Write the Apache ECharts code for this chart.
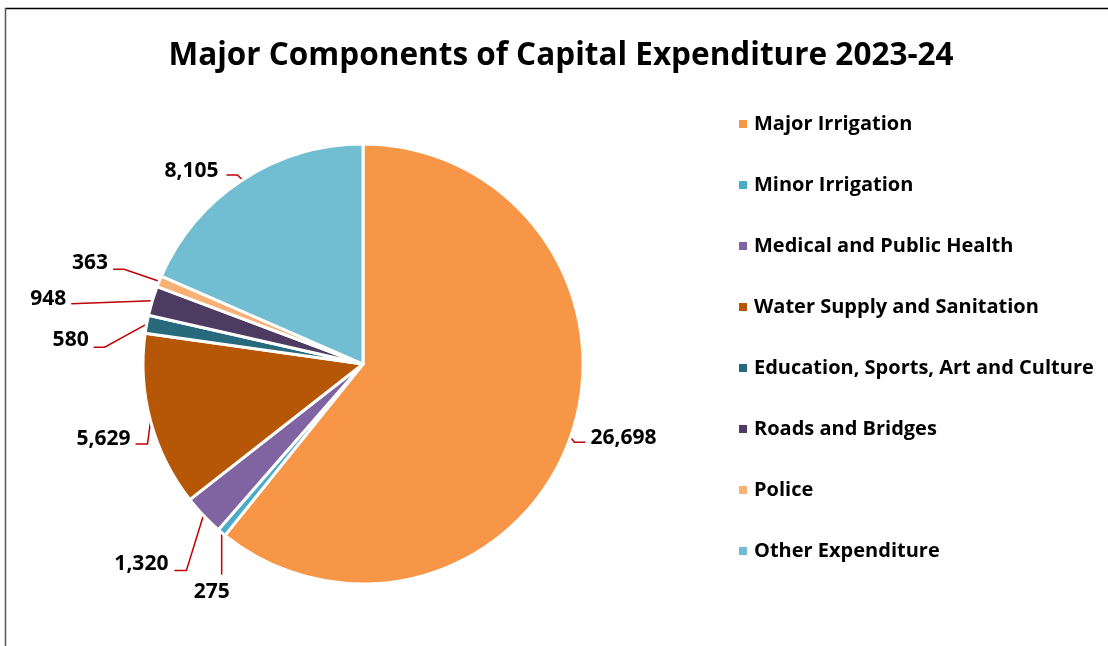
<!DOCTYPE html>
<html>
<head>
<meta charset="utf-8">
<script src="https://cdn.jsdelivr.net/npm/echarts@6/dist/echarts.min.js"></script>
<style>
html,body{margin:0;padding:0;background:#fff;}
#chart{width:1108px;height:646px;}
</style>
</head>
<body>
<div id="chart"></div>
<script>
// Capital expenditure components, 2023-24 (₹ crore)
const categories = [
  'Major Irrigation',
  'Minor Irrigation',
  'Medical and Public Health',
  'Water Supply and Sanitation',
  'Education, Sports, Art and Culture',
  'Roads and Bridges',
  'Police',
  'Other Expenditure'
];
const values = [26698, 275, 1320, 5629, 580, 948, 363, 8105];
const sliceColors = ['#F79646', '#4BACC6', '#8064A2', '#B65708', '#276A7C', '#4E3B62', '#F9B074', '#71BDD1'];

// Leader-line shape for each slice label, relative to the slice's outer edge:
// bend = first segment, run = horizontal segment, text = label offset from the line end.
const leaderStyle = [
  { bend: [4, 5],    run: 11,  text: [5, -4],   align: 'left' },
  { bend: [0, 42],   run: 0,   text: [-10, 17], align: 'center' },
  { bend: [-17, 55], run: -12, text: [-6, -6],  align: 'right' },
  { bend: [-3, 23],  run: -12, text: [-5, -5],  align: 'right' },
  { bend: [-42, 23], run: -11, text: [-5, -7],  align: 'right' },
  { bend: [-81, 3],  run: 0,   text: [-5, -5],  align: 'right' },
  { bend: [-35, -12], run: -11, text: [-5, -6], align: 'right' },
  { bend: [-5, -5],  run: -11, text: [-8, -4],  align: 'right' }
];

const font = '"Open Sans", sans-serif';
const chart = echarts.init(document.getElementById('chart'));

chart.setOption({
  backgroundColor: '#fff',
  animation: false,
  title: {
    text: 'Major Components of Capital Expenditure 2023-24',
    left: 556,
    textAlign: 'center',
    top: 35,
    textStyle: { fontFamily: font, fontWeight: 'bold', fontSize: 31.5, color: '#000' }
  },
  legend: {
    orient: 'vertical',
    left: 732,
    top: 108,
    itemGap: 39,
    itemWidth: 10,
    itemHeight: 10,
    icon: 'rect',
    textStyle: { fontFamily: font, fontWeight: 'bold', fontSize: 20, lineHeight: 22, color: '#000', padding: [0, 0, 0, 1] },
    data: categories
  },
  graphic: [
    { type: 'line', shape: { x1: 5, y1: 8.5, x2: 1108, y2: 8.5 }, style: { stroke: '#000', lineWidth: 1.5 } },
    { type: 'line', shape: { x1: 5.5, y1: 8, x2: 5.5, y2: 646 }, style: { stroke: '#555', lineWidth: 1.5 } }
  ],
  series: [{
    type: 'pie',
    center: [363, 364],
    radius: [0, 220],
    startAngle: 90,
    clockwise: true,
    avoidLabelOverlap: false,
    data: categories.map((name, i) => ({ name, value: values[i], itemStyle: { color: sliceColors[i] } })),
    itemStyle: { borderColor: '#fff', borderWidth: 3 },
    label: {
      show: true,
      position: 'outside',
      formatter: p => p.value.toLocaleString('en-US'),
      fontFamily: font,
      fontWeight: 'bold',
      fontSize: 21,
      color: '#000'
    },
    labelLine: {
      show: true,
      length: 10,
      length2: 10,
      lineStyle: { color: '#C00000', width: 1.5 }
    },
    labelLayout: params => {
      const s = leaderStyle[params.dataIndex];
      const p0 = params.labelLinePoints[0];
      const p1 = [p0[0] + s.bend[0], p0[1] + s.bend[1]];
      const p2 = [p1[0] + s.run, p1[1]];
      return {
        x: p2[0] + s.text[0],
        y: p2[1] + s.text[1],
        align: s.align,
        verticalAlign: 'middle',
        labelLinePoints: [p0, p1, p2]
      };
    }
  }]
});
</script>
</body>
</html>
